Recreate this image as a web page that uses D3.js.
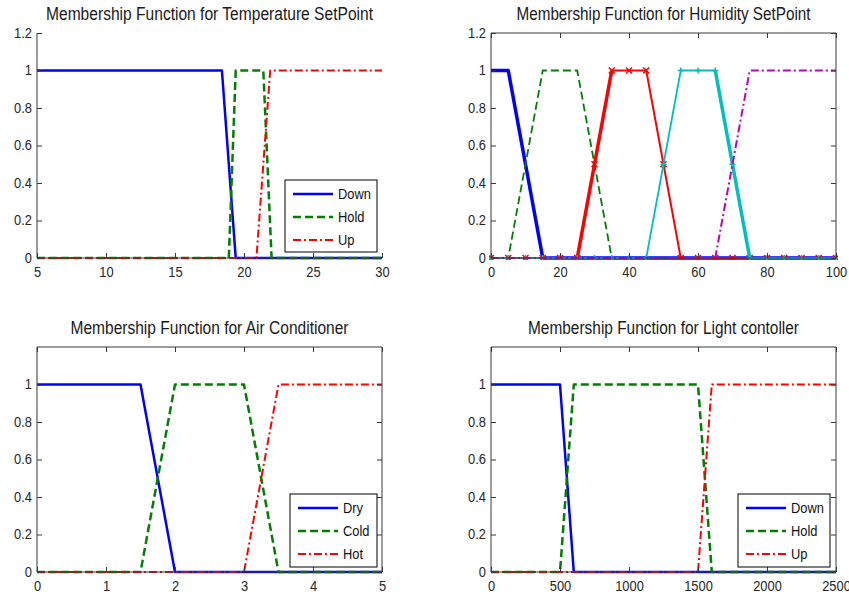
<!DOCTYPE html>
<html>
<head>
<meta charset="utf-8">
<script src="https://cdn.jsdelivr.net/npm/d3@7.9.0/dist/d3.min.js"></script>
<style>
  body { margin: 0; background: #fff; }
  svg { display: block; font-family: "Liberation Sans", Arial, sans-serif; }
</style>
</head>
<body>
<svg id="chart" width="849" height="597"></svg>
<script>
// ---- data ----
const titles = [
  "Membership Function for Temperature SetPoint",
  "Membership Function for Humidity SetPoint",
  "Membership Function for Air Conditioner",
  "Membership Function for Light contoller"
];

const tempTicks = [5, 10, 15, 20, 25, 30];
const tempNames = ["Down", "Hold", "Up"];
const tempDown = [[5, 1], [18.4, 1], [19.4, 0], [30, 0]];
const tempHold = [[5, 0], [18.9, 0], [19.4, 1], [21.4, 1], [22, 0], [30, 0]];
const tempUp = [[5, 0], [20.9, 0], [21.9, 1], [30, 1]];

const humTicks = [0, 20, 40, 60, 80, 100];
const humX = [0, 5, 10, 15, 20, 25, 30, 35, 40, 45, 50, 55, 60, 65, 70, 75, 80, 85, 90, 95, 100];
const humVeryDry = [[0, 1], [5, 1], [15, 0], [100, 0]];
const humDry = [[0, 0], [5, 0], [15, 1], [25, 1], [35, 0], [100, 0]];
const humNormalY = [0, 0, 0, 0, 0, 0, 0.5, 1, 1, 1, 0.5, 0, 0, 0, 0, 0, 0, 0, 0, 0, 0];
const humNormalRise = [[25, 0], [35, 1]];
const humWetY = [0, 0, 0, 0, 0, 0, 0, 0, 0, 0, 0.5, 1, 1, 1, 0.5, 0, 0, 0, 0, 0, 0];
const humWetFall = [[65, 1], [75, 0]];
const humVeryWet = [[0, 0], [65, 0], [75, 1], [100, 1]];

const acTicks = [0, 1, 2, 3, 4, 5];
const acNames = ["Dry", "Cold", "Hot"];
const acDry = [[0, 1], [1.5, 1], [2, 0], [5, 0]];
const acCold = [[0, 0], [1.5, 0], [2, 1], [3, 1], [3.5, 0], [5, 0]];
const acHot = [[0, 0], [3, 0], [3.5, 1], [5, 1]];

const lightTicks = [0, 500, 1000, 1500, 2000, 2500];
const lightNames = ["Down", "Hold", "Up"];
const lightDown = [[0, 1], [500, 1], [600, 0], [2500, 0]];
const lightHold = [[0, 0], [500, 0], [600, 1], [1500, 1], [1600, 0], [2500, 0]];
const lightUp = [[0, 0], [1500, 0], [1600, 1], [2500, 1]];

const yTicksTop = [0, 0.2, 0.4, 0.6, 0.8, 1, 1.2];
const yTicksBottom = [0, 0.2, 0.4, 0.6, 0.8, 1];

// ---- styles ----
const BLUE = "#0000ff", GREEN = "#008000", RED = "#ff0000", CYAN = "#00bfbf", MAGENTA = "#bf00bf";
const solid = { dash: null };
const dashed = { dash: "8,4" };
const dashDot = { dash: "8,3,2,3" };
const AXIS = "#3a3a3a";
const TEXT = "#262626";

const svg = d3.select("#chart");
const plain = (d) => String(d);

function panel(cfg) {
  const x = d3.scaleLinear().domain(cfg.xDomain).range([cfg.left, cfg.right]);
  const y = d3.scaleLinear().domain([0, 1.2]).range([cfg.bottom, cfg.top]);
  const g = svg.append("g");

  // title
  g.append("text")
    .attr("class", "title")
    .attr("x", (cfg.left + cfg.right) / 2)
    .attr("y", cfg.top - 13.5)
    .attr("text-anchor", "middle")
    .attr("font-size", 17.5)
    .attr("fill", "#1a1a1a")
    .attr("textLength", cfg.titleWidth)
    .attr("lengthAdjust", "spacingAndGlyphs")
    .text(cfg.title);

  // lines
  const line = d3.line().x((d) => x(d[0])).y((d) => y(d[1]));
  const clip = "clip" + cfg.id;
  g.append("clipPath").attr("id", clip)
    .append("rect")
    .attr("x", cfg.left - 2).attr("y", cfg.top)
    .attr("width", cfg.right - cfg.left + 4).attr("height", cfg.bottom - cfg.top + 2);
  const lg = g.append("g").attr("clip-path", `url(#${clip})`);

  cfg.series.forEach((s) => {
    lg.append("path")
      .attr("d", line(s.data))
      .attr("fill", "none")
      .attr("stroke", s.color)
      .attr("stroke-width", s.width)
      .attr("stroke-dasharray", s.style.dash)
      .attr("stroke-linejoin", "round");
    if (s.marker) {
      lg.append("g").selectAll("path").data(s.data).join("path")
        .attr("transform", (d) => `translate(${x(d[0])},${y(d[1])})`)
        .attr("d", s.marker === "x" ? "M-3,-3L3,3M-3,3L3,-3" : "M-3,0H3M0,-3V3")
        .attr("stroke", s.color)
        .attr("stroke-width", 1.5);
    }
  });

  // axes
  const xAxis = d3.axisBottom(x).tickValues(cfg.xTicks).tickFormat(plain)
    .tickSizeInner(-5).tickSizeOuter(0).tickPadding(9);
  const yAxis = d3.axisLeft(y).tickValues(cfg.yTicks).tickFormat(plain)
    .tickSizeInner(-5).tickSizeOuter(0).tickPadding(5);

  g.append("g").attr("transform", `translate(0,${cfg.bottom})`).call(xAxis);
  g.append("g").attr("transform", `translate(${cfg.left},0)`).call(yAxis);

  if (cfg.box) {
    g.append("g").attr("transform", `translate(0,${cfg.top})`)
      .call(d3.axisTop(x).tickValues(cfg.xTicks).tickSizeInner(-5).tickSizeOuter(0).tickFormat(""));
    g.append("g").attr("transform", `translate(${cfg.right},0)`)
      .call(d3.axisRight(y).tickValues(cfg.yTicks).tickSizeInner(-5).tickSizeOuter(0).tickFormat(""));
    g.append("path")
      .attr("d", `M${cfg.left},${cfg.top}H${cfg.right}M${cfg.right},${cfg.top}V${cfg.bottom}`)
      .attr("stroke", AXIS).attr("fill", "none");
  }
  // left and bottom axis lines
  g.append("path")
    .attr("d", `M${cfg.left},${cfg.top}V${cfg.bottom}H${cfg.right}`)
    .attr("stroke", AXIS).attr("fill", "none");

  g.selectAll(".domain").remove();
  g.selectAll(".tick line").attr("stroke", AXIS);
  g.selectAll(".tick text")
    .attr("font-size", 14)
    .attr("fill", TEXT)
    .attr("font-family", '"Liberation Sans", Arial, sans-serif');

  // legend
  if (cfg.legend) {
    const L = cfg.legend;
    const lgd = g.append("g");
    lgd.append("rect")
      .attr("x", L.x).attr("y", L.y).attr("width", L.w).attr("height", L.h)
      .attr("fill", "#fff").attr("stroke", "#000").attr("stroke-width", 1);
    L.names.forEach((name, i) => {
      const s = cfg.series[i];
      const cy = L.y + 14 + i * 23;
      lgd.append("path")
        .attr("d", `M${L.x + 8},${cy}H${L.x + 48}`)
        .attr("stroke", s.color)
        .attr("stroke-width", s.width)
        .attr("stroke-dasharray", s.style.dash);
      lgd.append("text")
        .attr("class", "legend-text")
        .attr("x", L.x + 53).attr("y", cy + 5)
        .attr("font-size", 14)
        .attr("fill", "#111")
        .text(name);
    });
  }
}

panel({
  id: 1, title: titles[0], titleWidth: 327,
  left: 37, right: 382, top: 33, bottom: 258,
  xDomain: [5, 30], xTicks: tempTicks, yTicks: yTicksTop, box: false,
  series: [
    { data: tempDown, color: BLUE, width: 2.5, style: solid },
    { data: tempHold, color: GREEN, width: 2.5, style: dashed },
    { data: tempUp, color: RED, width: 2, style: dashDot }
  ],
  legend: { x: 285, y: 180, w: 92, h: 72, names: tempNames }
});

panel({
  id: 2, title: titles[1], titleWidth: 294,
  left: 491, right: 836, top: 33, bottom: 258,
  xDomain: [0, 100], xTicks: humTicks, yTicks: yTicksTop, box: true,
  series: [
    { data: humVeryDry, color: BLUE, width: 3.5, style: solid },
    { data: humDry, color: GREEN, width: 1.8, style: dashed },
    { data: humX.map((v, i) => [v, humNormalY[i]]), color: RED, width: 2, style: solid, marker: "x" },
    { data: humNormalRise, color: RED, width: 3.5, style: solid },
    { data: humX.map((v, i) => [v, humWetY[i]]), color: CYAN, width: 1.8, style: solid, marker: "+" },
    { data: humWetFall, color: CYAN, width: 3.5, style: solid },
    { data: humVeryWet, color: MAGENTA, width: 2, style: dashDot }
  ]
});

panel({
  id: 3, title: titles[2], titleWidth: 278,
  left: 37, right: 382, top: 347, bottom: 572,
  xDomain: [0, 5], xTicks: acTicks, yTicks: yTicksBottom, box: true,
  series: [
    { data: acDry, color: BLUE, width: 2.5, style: solid },
    { data: acCold, color: GREEN, width: 2.5, style: dashed },
    { data: acHot, color: RED, width: 2, style: dashDot }
  ],
  legend: { x: 290, y: 494, w: 87, h: 73, names: acNames }
});

panel({
  id: 4, title: titles[3], titleWidth: 271,
  left: 491, right: 836, top: 347, bottom: 572,
  xDomain: [0, 2500], xTicks: lightTicks, yTicks: yTicksBottom, box: true,
  series: [
    { data: lightDown, color: BLUE, width: 2.5, style: solid },
    { data: lightHold, color: GREEN, width: 2.5, style: dashed },
    { data: lightUp, color: RED, width: 2, style: dashDot }
  ],
  legend: { x: 738, y: 494, w: 92, h: 73, names: lightNames }
});

// squeeze tick and legend text slightly, like the reference
svg.selectAll(".tick text, .legend-text").each(function () {
  const len = this.getComputedTextLength();
  if (len > 0) {
    d3.select(this).attr("textLength", len * 0.92).attr("lengthAdjust", "spacingAndGlyphs");
  }
});
</script>
</body>
</html>
